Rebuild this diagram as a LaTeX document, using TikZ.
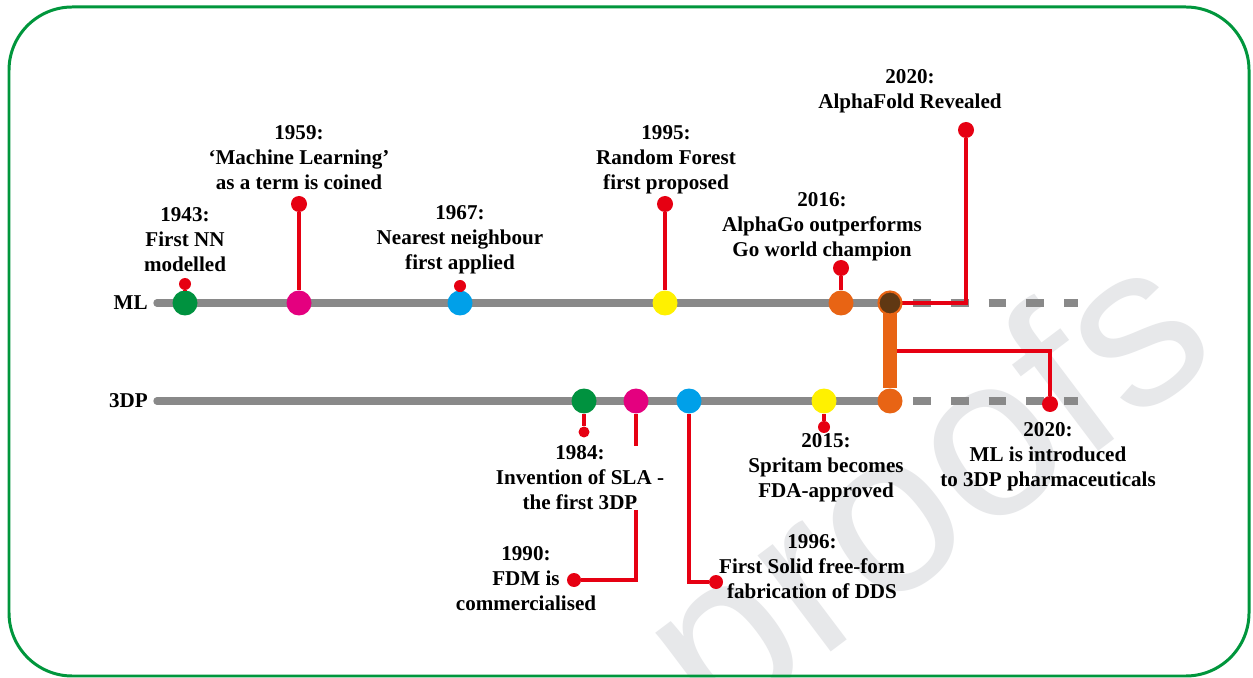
\documentclass[tikz,border=0pt]{standalone}
\usepackage{fontspec}
\setmainfont{Liberation Serif}
\setsansfont{Liberation Sans}
\usepackage{tikz}

\definecolor{boxGreen}{RGB}{0,150,60}
\definecolor{lineGray}{RGB}{137,137,137}
\definecolor{tipRed}{RGB}{230,0,18}
\definecolor{dotGreen}{RGB}{0,146,63}
\definecolor{dotPink}{RGB}{228,0,127}
\definecolor{dotBlue}{RGB}{0,160,233}
\definecolor{dotYellow}{RGB}{255,241,0}
\definecolor{dotOrange}{RGB}{232,100,20}
\definecolor{dotBrown}{RGB}{96,56,19}
\definecolor{wmGray}{RGB}{231,232,234}

\begin{document}
\begin{tikzpicture}[x=0.02cm, y=-0.02cm,
    lbl/.style = {font=\fontsize{12}{14.2}\selectfont\bfseries, align=center, inner sep=0pt},
    evt/.style = {circle, fill=#1, inner sep=0pt, minimum size=0.5cm},
    tip/.style = {circle, fill=tipRed, inner sep=0pt, minimum size=#1},
    tip/.default = 0.32cm,
    stem/.style = {tipRed, line width=2.8pt},
    axis/.style = {lineGray, line width=4.2pt, line cap=round},
    future/.style = {lineGray, line width=4.2pt, dash pattern=on 10.2pt off 11.3pt}]
    %\draw [step = 50, help lines] (0,0) grid (1253,678);
    \useasboundingbox (0,0) rectangle (1253,678);
    \fill [white] (0,0) rectangle (1253,678);
    \node [font=\sffamily\fontsize{130}{130}\selectfont, text=wmGray, rotate=37] (wm) at (935,500) {proofs};
    \draw [boxGreen, line width=1.7pt, rounded corners=36pt] (9,7) rectangle (1249,676);

    % the two time lines
    \node [lbl, anchor=east] (ml) at (148,303) {ML};
    \node [lbl, anchor=east] (tdp) at (148,401) {3DP};
    \coordinate (mlA) at (157,303);
    \coordinate (mlB) at (890,303);
    \coordinate (mlC) at (913,303);
    \coordinate (mlD) at (1078,303);
    \coordinate (tdA) at (157,401);
    \coordinate (tdB) at (890,401);
    \coordinate (tdC) at (913,401);
    \coordinate (tdD) at (1078,401);
    \draw [axis] (mlA) -- (mlB);
    \draw [axis] (tdA) -- (tdB);
    \draw [future] (mlC) -- (mlD);
    \draw [future] (tdC) -- (tdD);

    % ML events
    \node [evt=dotGreen] (m1) at (185,303) {};
    \node [evt=dotPink] (m2) at (299,303) {};
    \node [evt=dotBlue] (m3) at (460,303) {};
    \node [evt=dotYellow] (m4) at (665,303) {};
    \node [evt=dotOrange] (m5) at (841,303) {};
    \node [tip=0.24cm] (t1) at (185,284) {};
    \node [tip] (t2) at (299,204) {};
    \node [tip=0.24cm] (t3) at (460,286) {};
    \node [tip] (t4) at (665,204) {};
    \node [tip] (t5) at (841,268) {};
    \node [tip] (t6) at (966,130) {};
    \draw [stem] (m1) -- (t1);
    \draw [stem] (m2) -- (t2);
    \draw [stem] (m3) -- (t3);
    \draw [stem] (m4) -- (t4);
    \draw [stem] (m5) -- (t5);

    % 3DP events
    \node [evt=dotGreen] (d1) at (584,401) {};
    \node [evt=dotPink] (d2) at (636,401) {};
    \node [evt=dotBlue] (d3) at (689,401) {};
    \node [evt=dotYellow] (d4) at (824,401) {};
    \node [tip=0.22cm] (t7) at (584,432) {};
    \node [tip=0.28cm] (t8) at (574,580) {};
    \node [tip=0.28cm] (t9) at (716,582) {};
    \node [tip=0.24cm] (t10) at (824,427) {};
    \draw [stem] (d1) -- (t7);
    \draw [stem] (d2) |- (t8);
    \draw [stem] (d3) |- (t9);
    \draw [stem] (d4) -- (t10);

    % where the two lines meet
    \node [evt=dotOrange] (d5) at (890,401) {};
    \coordinate (jn) at (890,351);
    \node [tip] (t11) at (1050,404) {};
    \draw [stem] (mlB) -| (t6);
    \draw [stem, line width=2.3pt] (jn) -| (t11);
    \draw [dotOrange, line width=8.5pt] (mlB) -- (d5);
    \node [evt=dotBrown, draw=dotOrange, line width=1.2pt, minimum size=0.46cm] (m6) at (mlB) {};

    \node [lbl] (l1) at (185,240) {1943:\\First NN\\modelled};
    \node [lbl] (l2) at (299,158) {1959:\\`Machine Learning'\\as a term is coined};
    \node [lbl] (l3) at (460,240) {1967:\\Nearest neighbour\\first applied};
    \node [lbl] (l4) at (666,160) {1995:\\Random Forest\\first proposed};
    \node [lbl] (l5) at (822,227) {2016:\\AlphaGo outperforms\\Go world champion};
    \node [lbl] (l6) at (910,91) {2020:\\AlphaFold Revealed};
    \node [lbl, fill=white] (l7) at (580,478) {1984:\\Invention of SLA -\\the first 3DP};
    \node [lbl] (l8) at (526,579) {1990:\\FDM is\\commercialised};
    \node [lbl] (l9) at (812,567) {1996:\\First Solid free-form\\fabrication of DDS};
    \node [lbl] (l10) at (826,468) {2015:\\Spritam becomes\\FDA-approved};
    \node [lbl] (l11) at (1048,457) {2020:\\ML is introduced\\to 3DP pharmaceuticals};
\end{tikzpicture}
\end{document}
